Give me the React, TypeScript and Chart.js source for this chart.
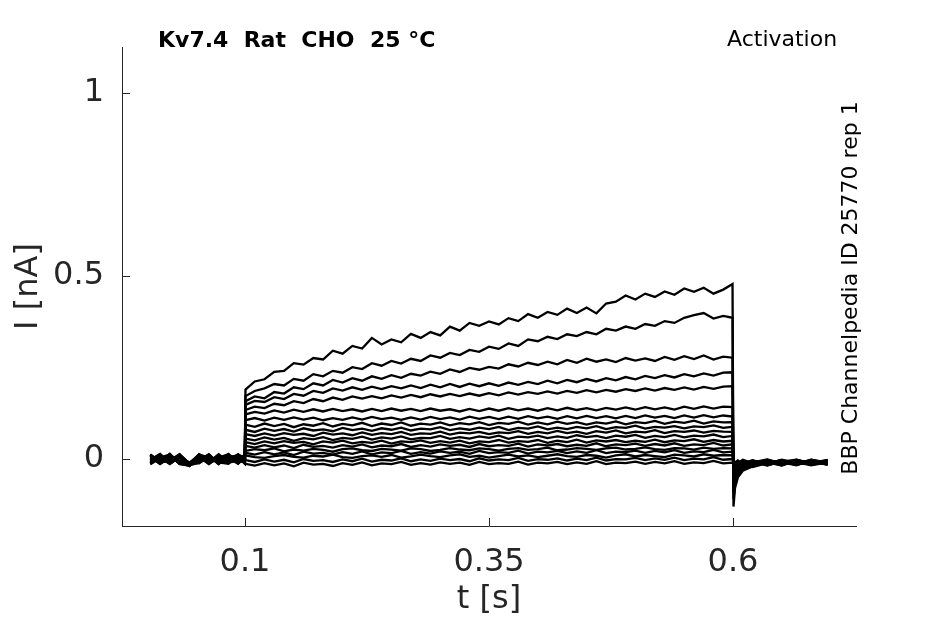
import { useEffect, useRef } from "react";
import { Chart, registerables } from "chart.js";

Chart.register(...registerables);

// sample times [s]: holding, step, tail
const timeS = [
  0.003, 0.013, 0.023, 0.033, 0.043, 0.053, 0.063, 0.073, 0.083, 0.093, 0.0998,
  0.1005, 0.11, 0.12, 0.13, 0.14, 0.15, 0.16, 0.17, 0.18, 0.19,
  0.2, 0.21, 0.22, 0.23, 0.24, 0.25, 0.26, 0.27, 0.28, 0.29,
  0.3, 0.31, 0.32, 0.33, 0.34, 0.35, 0.36, 0.37, 0.38, 0.39,
  0.4, 0.41, 0.42, 0.43, 0.44, 0.45, 0.46, 0.47, 0.48, 0.49,
  0.5, 0.51, 0.52, 0.53, 0.54, 0.55, 0.56, 0.57, 0.58, 0.59, 0.5995,
  0.6005, 0.602, 0.605, 0.61, 0.62, 0.635, 0.65, 0.665, 0.68, 0.697,
];

// current [nA] per sweep
const sweep01 = [
  0.008, -0.012, 0.011, -0.006, -0.014, 0.005, -0.009, 0.012, -0.01, 0.009, 0.002,
  0.19, 0.212, 0.218, 0.238, 0.241, 0.262, 0.258, 0.276, 0.272, 0.296, 0.288, 0.309, 0.302, 0.331, 0.313, 0.327, 0.319, 0.342, 0.331, 0.347, 0.338, 0.362, 0.351, 0.372, 0.364, 0.376, 0.368, 0.385, 0.377, 0.396, 0.386, 0.402, 0.394, 0.411, 0.399, 0.414, 0.398, 0.425, 0.43, 0.447, 0.436, 0.452, 0.443, 0.458, 0.449, 0.466, 0.457, 0.468, 0.452, 0.463, 0.478,
  -0.13, -0.08, -0.05, -0.032, -0.02, -0.004, -0.016, -0.002, -0.013, -0.006,
];
const sweep02 = [
  -0.011, 0.009, -0.004, 0.013, -0.016, -0.008, 0.01, -0.012, 0.006, -0.005, -0.009,
  0.172, 0.186, 0.193, 0.205, 0.201, 0.219, 0.214, 0.232, 0.226, 0.241, 0.236, 0.251, 0.246, 0.262, 0.255, 0.268, 0.261, 0.274, 0.268, 0.283, 0.277, 0.29, 0.284, 0.298, 0.293, 0.307, 0.301, 0.316, 0.309, 0.327, 0.322, 0.334, 0.328, 0.341, 0.336, 0.347, 0.341, 0.356, 0.351, 0.362, 0.356, 0.369, 0.364, 0.377, 0.372, 0.386, 0.393, 0.399, 0.384, 0.391, 0.386,
  -0.11, -0.07, -0.044, -0.028, -0.008, -0.018, -0.005, -0.015, -0.003, -0.011,
];
const sweep03 = [
  0.012, -0.007, 0.014, -0.013, -0.01, 0.009, -0.014, 0.004, 0.013, -0.011, 0.007,
  0.158, 0.171, 0.166, 0.183, 0.179, 0.196, 0.191, 0.207, 0.201, 0.216, 0.209, 0.221, 0.214, 0.226, 0.219, 0.229, 0.222, 0.233, 0.228, 0.239, 0.233, 0.245, 0.238, 0.249, 0.244, 0.252, 0.247, 0.259, 0.253, 0.263, 0.257, 0.266, 0.259, 0.271, 0.263, 0.274, 0.266, 0.272, 0.265, 0.276, 0.269, 0.275, 0.268, 0.279, 0.271, 0.281, 0.273, 0.283, 0.272, 0.28, 0.277,
  -0.09, -0.06, -0.038, -0.024, -0.017, -0.006, -0.014, -0.004, -0.016, -0.008,
];
const sweep04 = [
  -0.004, 0.013, -0.012, 0.006, -0.018, 0.012, 0.002, -0.009, -0.013, 0.011, -0.003,
  0.148, 0.159, 0.156, 0.169, 0.164, 0.178, 0.173, 0.186, 0.181, 0.193, 0.187, 0.196, 0.189, 0.198, 0.191, 0.199, 0.193, 0.201, 0.194, 0.203, 0.196, 0.205, 0.197, 0.206, 0.199, 0.207, 0.2, 0.209, 0.203, 0.211, 0.205, 0.214, 0.207, 0.216, 0.21, 0.219, 0.212, 0.221, 0.215, 0.224, 0.218, 0.227, 0.221, 0.229, 0.223, 0.232, 0.226, 0.234, 0.228, 0.236, 0.237,
  -0.075, -0.052, -0.034, -0.015, -0.022, -0.011, -0.003, -0.012, -0.007, -0.014,
];
const sweep05 = [
  0.009, -0.014, 0.004, -0.007, -0.012, -0.004, 0.013, -0.013, 0.008, -0.006, 0.01,
  0.134, 0.143, 0.139, 0.151, 0.147, 0.158, 0.153, 0.164, 0.158, 0.168, 0.162, 0.171, 0.165, 0.172, 0.166, 0.174, 0.168, 0.175, 0.169, 0.177, 0.171, 0.178, 0.172, 0.179, 0.173, 0.18, 0.174, 0.182, 0.176, 0.183, 0.178, 0.185, 0.179, 0.186, 0.181, 0.188, 0.182, 0.189, 0.184, 0.191, 0.186, 0.193, 0.187, 0.194, 0.189, 0.196, 0.19, 0.197, 0.192, 0.198, 0.199,
  -0.065, -0.045, -0.03, -0.021, -0.006, -0.015, -0.009, -0.017, -0.002, -0.01,
];
const sweep06 = [
  -0.013, 0.004, 0.012, -0.01, -0.015, 0.01, -0.011, 0.008, -0.004, 0.013, -0.007,
  0.122, 0.129, 0.124, 0.133, 0.127, 0.135, 0.129, 0.136, 0.13, 0.137, 0.131, 0.136, 0.13, 0.137, 0.131, 0.138, 0.132, 0.137, 0.131, 0.138, 0.132, 0.136, 0.13, 0.137, 0.131, 0.138, 0.132, 0.139, 0.133, 0.138, 0.132, 0.139, 0.133, 0.14, 0.134, 0.139, 0.133, 0.14, 0.135, 0.141, 0.135, 0.142, 0.136, 0.141, 0.135, 0.143, 0.137, 0.144, 0.138, 0.143, 0.142,
  -0.055, -0.04, -0.027, -0.012, -0.019, -0.002, -0.013, -0.006, -0.014, -0.004,
];
const sweep07 = [
  0.013, -0.009, -0.006, 0.01, -0.011, -0.012, 0.006, -0.004, 0.012, -0.012, 0.004,
  0.106, 0.112, 0.105, 0.113, 0.107, 0.114, 0.108, 0.113, 0.106, 0.112, 0.107, 0.114, 0.108, 0.115, 0.109, 0.113, 0.107, 0.114, 0.108, 0.115, 0.109, 0.114, 0.108, 0.116, 0.11, 0.115, 0.109, 0.116, 0.11, 0.117, 0.111, 0.116, 0.11, 0.117, 0.111, 0.118, 0.112, 0.117, 0.111, 0.118, 0.112, 0.119, 0.113, 0.118, 0.112, 0.119, 0.113, 0.12, 0.114, 0.119, 0.116,
  -0.048, -0.034, -0.018, -0.023, -0.01, -0.014, -0.004, -0.011, -0.008, -0.015,
];
const sweep08 = [
  -0.009, 0.01, -0.013, 0.004, -0.019, 0.006, -0.012, 0.013, -0.008, 0.004, -0.01,
  0.094, 0.088, 0.097, 0.09, 0.096, 0.087, 0.095, 0.091, 0.098, 0.089, 0.096, 0.092, 0.099, 0.09, 0.097, 0.093, 0.1, 0.091, 0.097, 0.094, 0.1, 0.092, 0.098, 0.095, 0.101, 0.093, 0.099, 0.096, 0.102, 0.094, 0.1, 0.095, 0.102, 0.096, 0.101, 0.094, 0.1, 0.097, 0.103, 0.095, 0.101, 0.098, 0.104, 0.096, 0.102, 0.099, 0.105, 0.097, 0.103, 0.1, 0.101,
  -0.042, -0.03, -0.024, -0.009, -0.016, -0.007, -0.017, -0.003, -0.012, -0.005,
];
const sweep09 = [
  0.004, -0.013, 0.008, -0.012, -0.013, -0.006, 0.012, -0.01, 0.002, -0.013, 0.008,
  0.08, 0.074, 0.083, 0.077, 0.082, 0.075, 0.084, 0.078, 0.081, 0.076, 0.085, 0.079, 0.083, 0.077, 0.084, 0.08, 0.086, 0.078, 0.083, 0.081, 0.087, 0.079, 0.084, 0.08, 0.086, 0.082, 0.088, 0.079, 0.085, 0.083, 0.089, 0.081, 0.086, 0.082, 0.088, 0.084, 0.09, 0.082, 0.087, 0.085, 0.091, 0.083, 0.088, 0.086, 0.09, 0.084, 0.089, 0.087, 0.092, 0.085, 0.088,
  -0.036, -0.026, -0.014, -0.02, -0.004, -0.012, -0.008, -0.016, -0.006, -0.012,
];
const sweep10 = [
  -0.012, 0.006, -0.008, 0.012, -0.012, 0.013, -0.004, 0.006, -0.012, 0.01, -0.004,
  0.068, 0.063, 0.07, 0.064, 0.071, 0.066, 0.069, 0.063, 0.072, 0.067, 0.07, 0.065, 0.073, 0.066, 0.071, 0.068, 0.074, 0.066, 0.07, 0.069, 0.075, 0.067, 0.072, 0.07, 0.074, 0.068, 0.073, 0.071, 0.076, 0.069, 0.074, 0.07, 0.077, 0.071, 0.075, 0.069, 0.076, 0.072, 0.078, 0.07, 0.075, 0.073, 0.079, 0.071, 0.076, 0.074, 0.078, 0.072, 0.077, 0.075, 0.074,
  -0.032, -0.022, -0.019, -0.008, -0.014, -0.003, -0.015, -0.007, -0.017, -0.009,
];
const sweep11 = [
  0.01, -0.004, 0.013, -0.014, -0.017, -0.01, 0.008, -0.014, 0.01, -0.002, 0.012,
  0.056, 0.051, 0.059, 0.053, 0.058, 0.05, 0.057, 0.054, 0.06, 0.052, 0.058, 0.055, 0.061, 0.053, 0.059, 0.056, 0.062, 0.054, 0.058, 0.057, 0.063, 0.055, 0.06, 0.056, 0.062, 0.058, 0.064, 0.055, 0.061, 0.059, 0.064, 0.057, 0.062, 0.058, 0.065, 0.06, 0.063, 0.057, 0.064, 0.061, 0.066, 0.058, 0.063, 0.06, 0.066, 0.059, 0.064, 0.062, 0.067, 0.06, 0.063,
  -0.028, -0.02, -0.011, -0.017, -0.007, -0.016, -0.005, -0.013, -0.002, -0.011,
];
const sweep12 = [
  -0.006, 0.012, -0.01, 0.008, -0.01, 0.004, -0.013, 0.01, -0.006, 0.012, -0.011,
  0.046, 0.041, 0.048, 0.043, 0.049, 0.044, 0.047, 0.04, 0.048, 0.045, 0.05, 0.043, 0.047, 0.044, 0.05, 0.042, 0.048, 0.046, 0.051, 0.044, 0.049, 0.045, 0.05, 0.043, 0.048, 0.046, 0.052, 0.045, 0.049, 0.047, 0.052, 0.044, 0.05, 0.046, 0.053, 0.045, 0.051, 0.048, 0.052, 0.046, 0.05, 0.047, 0.053, 0.046, 0.051, 0.049, 0.054, 0.047, 0.052, 0.048, 0.05,
  -0.025, -0.017, -0.016, -0.006, -0.013, -0.009, -0.018, -0.004, -0.01, -0.003,
];
const sweep13 = [
  0.002, -0.01, 0.006, -0.004, -0.018, 0.012, 0.004, -0.006, 0.014, -0.008, 0.0,
  0.036, 0.031, 0.038, 0.032, 0.037, 0.03, 0.039, 0.033, 0.036, 0.031, 0.038, 0.034, 0.04, 0.032, 0.037, 0.035, 0.041, 0.033, 0.038, 0.034, 0.04, 0.036, 0.039, 0.033, 0.041, 0.035, 0.038, 0.036, 0.042, 0.034, 0.04, 0.037, 0.041, 0.035, 0.039, 0.036, 0.043, 0.035, 0.04, 0.038, 0.042, 0.036, 0.041, 0.037, 0.043, 0.036, 0.04, 0.038, 0.044, 0.037, 0.04,
  -0.022, -0.015, -0.008, -0.015, -0.005, -0.013, -0.002, -0.011, -0.015, -0.007,
];
const sweep14 = [
  -0.014, 0.002, -0.006, 0.013, -0.012, -0.008, 0.01, -0.012, -0.002, 0.006, -0.013,
  0.022, 0.027, 0.024, 0.029, 0.021, 0.026, 0.023, 0.028, 0.025, 0.02, 0.027, 0.029, 0.024, 0.022, 0.028, 0.026, 0.023, 0.029, 0.027, 0.022, 0.025, 0.03, 0.026, 0.024, 0.029, 0.027, 0.023, 0.028, 0.03, 0.025, 0.027, 0.031, 0.024, 0.026, 0.03, 0.028, 0.025, 0.029, 0.031, 0.026, 0.028, 0.032, 0.027, 0.025, 0.03, 0.029, 0.026, 0.031, 0.028, 0.03, 0.029,
  -0.02, -0.018, -0.013, -0.004, -0.018, -0.005, -0.01, -0.014, -0.005, -0.013,
];
const sweep15 = [
  0.012, -0.012, 0.004, -0.01, -0.015, 0.008, -0.008, 0.012, -0.01, -0.004, 0.006,
  0.017, 0.012, 0.019, 0.013, 0.018, 0.011, 0.02, 0.015, 0.017, 0.012, 0.019, 0.014, 0.021, 0.013, 0.018, 0.016, 0.022, 0.014, 0.019, 0.015, 0.021, 0.017, 0.02, 0.014, 0.022, 0.016, 0.019, 0.017, 0.023, 0.015, 0.02, 0.018, 0.022, 0.016, 0.021, 0.017, 0.024, 0.016, 0.02, 0.019, 0.023, 0.017, 0.022, 0.018, 0.024, 0.017, 0.021, 0.019, 0.025, 0.018, 0.02,
  -0.018, -0.012, -0.006, -0.012, -0.003, -0.017, -0.007, -0.002, -0.011, -0.004,
];
const sweep16 = [
  -0.002, 0.014, -0.012, 0.006, -0.014, -0.002, 0.012, -0.013, 0.006, 0.01, -0.008,
  0.01, 0.005, 0.003, 0.008, 0.011, 0.006, 0.004, 0.009, 0.007, 0.012, 0.005, 0.003, 0.008, 0.01, 0.006, 0.011, 0.004, 0.007, 0.012, 0.008, 0.005, 0.01, 0.013, 0.006, 0.009, 0.004, 0.008, 0.012, 0.007, 0.01, 0.005, 0.009, 0.013, 0.008, 0.006, 0.011, 0.009, 0.004, 0.01, 0.013, 0.007, 0.011, 0.008, 0.005, 0.012, 0.01, 0.007, 0.013, 0.009, 0.011, 0.01,
  -0.016, -0.014, -0.012, -0.002, -0.011, -0.008, -0.014, -0.009, -0.004, -0.016,
];
const sweep17 = [
  0.008, -0.006, 0.01, -0.013, -0.019, 0.006, -0.012, 0.002, -0.012, 0.012, 0.004,
  -0.003, -0.008, -0.001, -0.007, -0.002, -0.009, 0.0, -0.005, -0.003, -0.008, -0.001, -0.006, 0.001, -0.007, -0.002, -0.004, 0.002, -0.006, -0.001, -0.005, 0.001, -0.003, 0.0, -0.006, 0.002, -0.004, -0.001, -0.003, 0.003, -0.005, 0.0, -0.002, 0.002, -0.004, 0.001, -0.003, 0.004, -0.004, 0.0, -0.001, 0.003, -0.003, 0.002, -0.002, 0.004, -0.003, 0.001, -0.001, 0.005, -0.002, 0.0,
  -0.015, -0.009, -0.004, -0.014, -0.009, -0.001, -0.012, -0.006, -0.013, -0.002,
];
const sweep18 = [
  -0.01, 0.004, -0.014, 0.008, -0.013, 0.01, -0.002, -0.008, 0.01, -0.01, -0.004,
  -0.013, -0.018, -0.011, -0.017, -0.012, -0.02, -0.01, -0.015, -0.013, -0.019, -0.011, -0.016, -0.009, -0.017, -0.012, -0.014, -0.008, -0.016, -0.011, -0.015, -0.009, -0.013, -0.01, -0.016, -0.008, -0.014, -0.011, -0.013, -0.007, -0.015, -0.01, -0.012, -0.008, -0.014, -0.009, -0.013, -0.006, -0.014, -0.01, -0.011, -0.007, -0.013, -0.008, -0.012, -0.006, -0.013, -0.009, -0.011, -0.005, -0.012, -0.01,
  -0.014, -0.017, -0.01, -0.006, -0.015, -0.011, -0.003, -0.015, -0.009, -0.012,
];

const sweeps = [
  sweep01, sweep02, sweep03, sweep04, sweep05, sweep06, sweep07, sweep08, sweep09,
  sweep10, sweep11, sweep12, sweep13, sweep14, sweep15, sweep16, sweep17, sweep18,
];

const xTicks = [0.1, 0.35, 0.6];
const yTicks = [0, 0.5, 1];

const titleText = "Kv7.4  Rat  CHO  25 °C";
const protocolText = "Activation";
const sourceText = "BBP Channelpedia ID 25770 rep 1";

const axisColor = "#262626";
const FONT = "'DejaVu Sans', sans-serif";

// inward tick marks + header/side texts
const decorPlugin = {
  id: "decor",
  afterDatasetsDraw(chart: any) {
    const { ctx, chartArea, scales } = chart;
    ctx.save();
    ctx.strokeStyle = axisColor;
    ctx.lineWidth = 1;
    ctx.beginPath();
    for (const v of xTicks) {
      const px = Math.round(scales.x.getPixelForValue(v)) + 0.5;
      ctx.moveTo(px, chartArea.bottom);
      ctx.lineTo(px, chartArea.bottom - 8);
    }
    for (const v of yTicks) {
      const py = Math.round(scales.y.getPixelForValue(v)) + 0.5;
      ctx.moveTo(chartArea.left, py);
      ctx.lineTo(chartArea.left + 8, py);
    }
    ctx.stroke();

    ctx.fillStyle = "#000";
    ctx.textBaseline = "alphabetic";
    ctx.textAlign = "left";
    ctx.font = `bold 22px ${FONT}`;
    ctx.fillText(titleText, 158, 47);
    ctx.font = `22px ${FONT}`;
    ctx.fillText(protocolText, 727, 46);

    ctx.translate(857, 288);
    ctx.rotate(-Math.PI / 2);
    ctx.textAlign = "center";
    ctx.fillText(sourceText, 0, 0);
    ctx.restore();
  },
};

export default function App() {
  const canvasRef = useRef<HTMLCanvasElement>(null);
  const chartRef = useRef<Chart | null>(null);

  useEffect(() => {
    if (!canvasRef.current) return;
    if (chartRef.current) chartRef.current.destroy();

    const tickFont = { family: FONT, size: 32 };

    chartRef.current = new Chart(canvasRef.current, {
      type: "line",
      data: {
        datasets: sweeps.map((s) => ({
          data: s.map((v, i) => ({ x: timeS[i], y: v })),
          borderColor: "#000",
          borderWidth: 2.3,
          pointRadius: 0,
          tension: 0,
          fill: false,
        })),
      },
      options: {
        animation: false,
        responsive: true,
        maintainAspectRatio: false,
        devicePixelRatio: 1,
        layout: { padding: { left: 0, top: 47, right: 89, bottom: 0 } },
        plugins: { legend: { display: false }, tooltip: { enabled: false } },
        scales: {
          x: {
            type: "linear",
            min: -0.026,
            max: 0.726,
            afterBuildTicks: (s: any) => {
              s.ticks = xTicks.map((v) => ({ value: v }));
            },
            afterFit: (s: any) => {
              s.height = 98;
            },
            grid: { display: false },
            border: { color: axisColor, width: 1 },
            ticks: {
              font: tickFont,
              color: axisColor,
              padding: 9,
              maxRotation: 0,
              autoSkip: false,
              callback: (v: any) => String(v),
            },
            title: {
              display: true,
              text: "t [s]",
              font: tickFont,
              color: axisColor,
              padding: { top: 0, bottom: 5 },
            },
          },
          y: {
            type: "linear",
            min: -0.183,
            max: 1.126,
            afterBuildTicks: (s: any) => {
              s.ticks = yTicks.map((v) => ({ value: v }));
            },
            afterFit: (s: any) => {
              s.width = 122;
            },
            grid: { display: false },
            border: { color: axisColor, width: 1 },
            ticks: {
              font: tickFont,
              color: axisColor,
              padding: 10,
              autoSkip: false,
              callback: (v: any) => String(v),
            },
            title: {
              display: true,
              text: "I [nA]",
              font: tickFont,
              color: axisColor,
              padding: { top: 9, bottom: 0 },
            },
          },
        },
      },
      plugins: [decorPlugin],
    } as any);

    return () => {
      if (chartRef.current) {
        chartRef.current.destroy();
        chartRef.current = null;
      }
    };
  }, []);

  return (
    <div style={{ position: "absolute", left: 0, top: 0, width: 945, height: 624, background: "#fff" }}>
      <canvas ref={canvasRef} />
    </div>
  );
}
